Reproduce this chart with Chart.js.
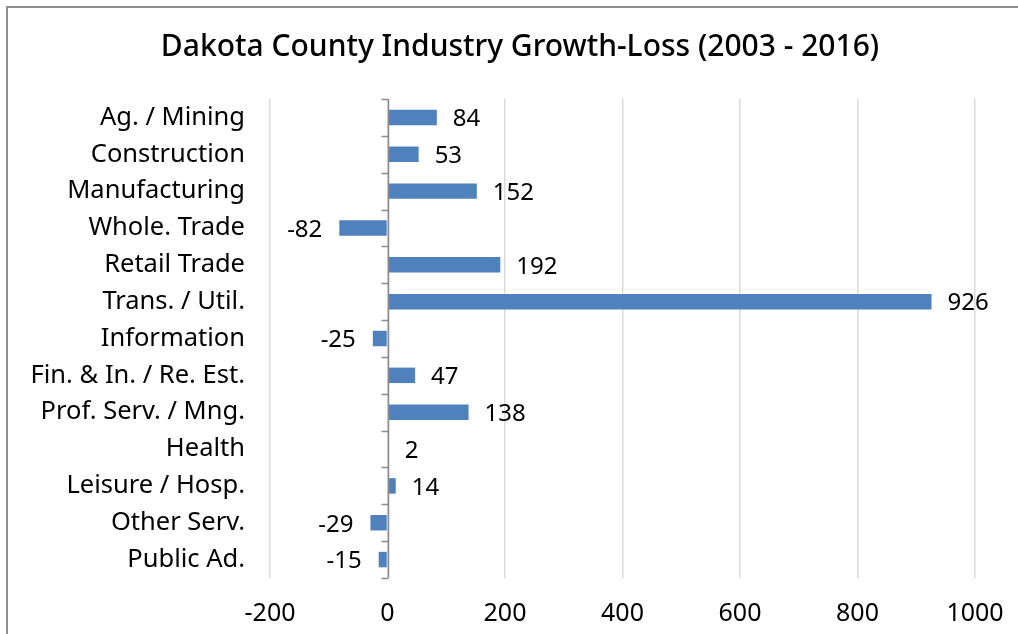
<!DOCTYPE html>
<html>
<head>
<meta charset="utf-8">
<script src="https://cdn.jsdelivr.net/npm/chart.js@4"></script>
<style>
  html, body { margin: 0; padding: 0; background: #fff; }
  #wrap { position: relative; width: 1018px; height: 634px; overflow: hidden; }
  #frame { position: absolute; left: 6px; top: 6px; width: 1100px; height: 700px;
           border-left: 2px solid #8e8e8e; border-top: 2px solid #8e8e8e; }
  canvas { position: absolute; left: 0; top: 0; }
</style>
</head>
<body>
<div id="wrap">
  <div id="frame"></div>
  <canvas id="industryChart" width="1018" height="634"></canvas>
</div>
<script>
const titleText = 'Dakota County Industry Growth-Loss (2003 - 2016)';
const industries = [
  'Ag. / Mining', 'Construction', 'Manufacturing', 'Whole. Trade', 'Retail Trade',
  'Trans. / Util.', 'Information', 'Fin. & In. / Re. Est.', 'Prof. Serv. / Mng.',
  'Health', 'Leisure / Hosp.', 'Other Serv.', 'Public Ad.'
];
const growthLoss = [84, 53, 152, -82, 192, 926, -25, 47, 138, 2, 14, -29, -15];
const xTicks = [-200, 0, 200, 400, 600, 800, 1000];

const FONT = '"Noto Sans", sans-serif';

// chart title, centred over the whole frame like the original
const chartTitle = {
  id: 'chartTitle',
  afterDraw(chart) {
    const { ctx } = chart;
    ctx.save();
    ctx.font = '500 30px ' + FONT;
    ctx.fillStyle = '#000';
    ctx.textAlign = 'center';
    ctx.textBaseline = 'middle';
    ctx.fillText(titleText, 520, 47);
    ctx.restore();
  }
};

// zero axis with tick marks between categories
const zeroAxis = {
  id: 'zeroAxis',
  afterDatasetsDraw(chart) {
    const { ctx, chartArea, scales } = chart;
    const x0 = Math.round(scales.x.getPixelForValue(0)) + 0.5;
    const n = industries.length;
    const step = (chartArea.bottom - chartArea.top) / n;
    ctx.save();
    ctx.strokeStyle = '#8c8c8c';
    ctx.lineWidth = 1.5;
    ctx.beginPath();
    ctx.moveTo(x0, chartArea.top);
    ctx.lineTo(x0, chartArea.bottom);
    for (let i = 0; i <= n; i++) {
      const y = Math.round(chartArea.top + i * step) + 0.5;
      ctx.moveTo(x0 - 7, y);
      ctx.lineTo(x0, y);
    }
    ctx.stroke();
    ctx.restore();
  }
};

// value labels at bar ends
const barLabels = {
  id: 'barLabels',
  afterDatasetsDraw(chart) {
    const { ctx } = chart;
    const meta = chart.getDatasetMeta(0);
    ctx.save();
    ctx.font = '24px ' + FONT;
    ctx.fillStyle = '#000';
    ctx.textBaseline = 'middle';
    meta.data.forEach((bar, i) => {
      const v = growthLoss[i];
      if (v >= 0) {
        ctx.textAlign = 'left';
        ctx.fillText(String(v), bar.x + 16, bar.y + 2);
      } else {
        ctx.textAlign = 'right';
        ctx.fillText(String(v), bar.x - 17, bar.y + 2);
      }
    });
    ctx.restore();
  }
};

new Chart(document.getElementById('industryChart').getContext('2d'), {
  type: 'bar',
  data: {
    labels: industries,
    datasets: [{
      label: 'Growth-Loss',
      data: growthLoss,
      backgroundColor: '#4f81bd',
      borderColor: '#4f81bd',
      borderWidth: 0,
      categoryPercentage: 1,
      barPercentage: 0.42
    }]
  },
  options: {
    indexAxis: 'y',
    responsive: false,
    animation: false,
    layout: { padding: { left: 10, right: 43, top: 99, bottom: 0 } },
    scales: {
      x: {
        min: -200,
        max: 1000,
        afterBuildTicks(scale) { scale.ticks = xTicks.map(v => ({ value: v })); },
        afterFit(scale) {
          scale.height = 56;
          scale.paddingLeft = 0;
          scale.paddingRight = 0;
        },
        grid: { color: '#d9d9d9', lineWidth: 1.5, drawTicks: false },
        border: { display: false },
        ticks: {
          font: { family: FONT, size: 25 },
          color: '#000',
          padding: 21,
          callback: v => String(v)
        }
      },
      y: {
        afterFit(scale) { scale.width = 260; },
        grid: { display: false, drawTicks: false },
        border: { display: false },
        ticks: {
          font: { family: FONT, size: 25.5 },
          color: '#000',
          padding: 25
        }
      }
    },
    plugins: {
      legend: { display: false },
      tooltip: { enabled: false },
      title: { display: false }
    }
  },
  plugins: [zeroAxis, barLabels, chartTitle]
});
</script>
</body>
</html>
